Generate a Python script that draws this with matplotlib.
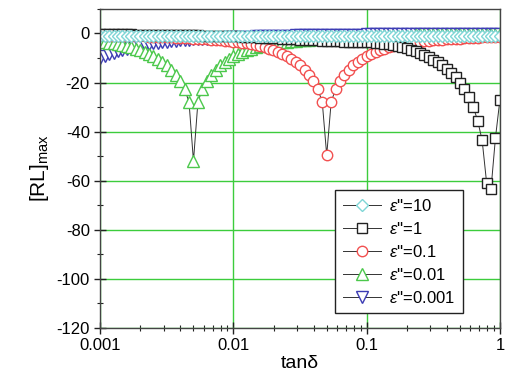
import matplotlib
matplotlib.use("Agg")
import matplotlib.pyplot as plt
from matplotlib.ticker import LogLocator, MultipleLocator, FixedLocator, FixedFormatter

plt.rcParams['font.family'] = ['Liberation Sans', 'DejaVu Sans']
plt.rcParams['mathtext.fontset'] = 'custom'
plt.rcParams['mathtext.rm'] = 'Liberation Sans'
plt.rcParams['mathtext.it'] = 'Liberation Sans:italic'
plt.rcParams['axes.unicode_minus'] = False

tan_d = [0.001000, 0.001080, 0.001166, 0.001259, 0.001359, 0.001468, 0.001585, 0.001711, 0.001848, 0.001995,
         0.002154, 0.002326, 0.002512, 0.002712, 0.002929, 0.003162, 0.003415, 0.003687, 0.003981, 0.004299,
         0.004642, 0.005012, 0.005412, 0.005843, 0.006310, 0.006813, 0.007356, 0.007943, 0.008577, 0.009261,
         0.01000, 0.01080, 0.01166, 0.01259, 0.01359, 0.01468, 0.01585, 0.01711, 0.01848, 0.01995,
         0.02154, 0.02326, 0.02512, 0.02712, 0.02929, 0.03162, 0.03415, 0.03687, 0.03981, 0.04299,
         0.04642, 0.05012, 0.05412, 0.05843, 0.06310, 0.06813, 0.07356, 0.07943, 0.08577, 0.09261,
         0.1000, 0.1080, 0.1166, 0.1259, 0.1359, 0.1468, 0.1585, 0.1711, 0.1848, 0.1995,
         0.2154, 0.2326, 0.2512, 0.2712, 0.2929, 0.3162, 0.3415, 0.3687, 0.3981, 0.4299,
         0.4642, 0.5012, 0.5412, 0.5843, 0.6310, 0.6813, 0.7356, 0.7943, 0.8577, 0.9261,
         1.000]

# [RL]max for each eps''
rl_10 = [-1.0, -1.0, -1.0, -1.0, -1.0, -1.0, -1.0, -1.0, -1.0, -1.0,
         -1.0, -1.0, -1.0, -1.0, -1.0, -1.0, -1.0, -1.0, -1.0, -1.0,
         -1.0, -1.0, -1.0, -1.0, -1.0, -1.0, -1.0, -1.0, -1.0, -1.0,
         -1.0, -1.0, -1.0, -1.0, -1.0, -1.0, -1.0, -1.0, -1.0, -1.0,
         -1.0, -1.0, -1.0, -1.0, -1.0, -1.0, -1.0, -1.0, -1.0, -1.0,
         -1.0, -1.0, -1.0, -1.0, -1.0, -1.0, -1.0, -1.0, -1.0, -1.0,
         -1.0, -1.0, -1.0, -1.0, -1.0, -1.0, -1.0, -1.0, -1.0, -1.0,
         -1.0, -1.0, -1.0, -1.0, -1.0, -1.0, -1.0, -1.0, -1.0, -1.0,
         -1.0, -1.0, -1.0, -1.0, -1.0, -1.0, -1.0, -1.0, -1.0, -1.0,
         -1.0]

rl_1 = [-0.3, -0.32, -0.34, -0.36, -0.38, -0.4, -0.42, -0.44, -0.46, -0.48,
        -0.5, -0.52, -0.55, -0.58, -0.61, -0.64, -0.67, -0.7, -0.73, -0.76,
        -0.79, -0.82, -0.85, -0.88, -0.91, -0.94, -0.97, -1.0, -1.03, -1.06,
        -1.1, -1.2, -1.3, -1.4, -1.5, -1.6, -1.7, -1.8, -1.9, -1.95,
        -2.0, -2.1, -2.2, -2.3, -2.4, -2.5, -2.6, -2.7, -2.8, -2.85,
        -2.9, -3.0, -3.1, -3.2, -3.25, -3.3, -3.35, -3.4, -3.45, -3.5,
        -3.6, -3.7, -3.85, -4.0, -4.2, -4.5, -4.8, -5.2, -5.6, -6.1,
        -6.7, -7.3, -8.0, -8.8, -9.7, -10.7, -11.8, -13.0, -14.4, -16.0,
        -17.8, -20.0, -22.8, -26.0, -30.0, -35.6, -43.6, -60.8, -63.2, -42.4,
        -27.0]

rl_01 = [-0.82, -0.85, -0.88, -0.92, -0.96, -1.0, -1.05, -1.1, -1.15, -1.2,
         -1.25, -1.3, -1.37, -1.45, -1.52, -1.6, -1.66, -1.73, -1.8, -1.9,
         -2.0, -2.1, -2.2, -2.3, -2.4, -2.5, -2.65, -2.8, -2.95, -3.1,
         -3.3, -3.5, -3.8, -4.1, -4.4, -4.8, -5.2, -5.7, -6.2, -6.8,
         -7.5, -8.3, -9.2, -10.3, -11.6, -13.0, -14.8, -16.8, -19.3, -22.6,
         -28.0, -49.6, -28.0, -22.6, -19.3, -16.8, -14.8, -13.0, -11.6, -10.3,
         -9.2, -8.3, -7.5, -6.8, -6.2, -5.7, -5.2, -4.8, -4.4, -4.1,
         -3.8, -3.5, -3.3, -3.1, -2.95, -2.8, -2.65, -2.5, -2.4, -2.3,
         -2.2, -2.1, -2.0, -1.9, -1.8, -1.73, -1.66, -1.6, -1.52, -1.45,
         -1.37]

rl_001 = [-3.3, -3.5, -3.8, -4.1, -4.4, -4.8, -5.2, -5.7, -6.2, -6.8,
          -7.5, -8.3, -9.2, -10.3, -11.6, -13.0, -14.8, -16.8, -19.3, -22.6,
          -28.0, -52.0, -28.0, -22.6, -19.3, -16.8, -14.8, -13.0, -11.6, -10.3,
          -9.2, -8.3, -7.5, -6.8, -6.2, -5.7, -5.2, -4.8, -4.4, -4.1,
          -3.8, -3.5, -3.3, -3.1, -2.95, -2.8, -2.65, -2.5, -2.4, -2.3,
          -2.2, -2.1, -2.0, -1.9, -1.8, -1.73, -1.66, -1.6, -1.52, -1.45,
          -1.37, -1.3, -1.25, -1.2, -1.15, -1.1, -1.05, -1.0, -0.96, -0.92,
          -0.88, -0.85, -0.82, -0.79, -0.76, -0.73, -0.7, -0.68, -0.66, -0.64,
          -0.62, -0.6, -0.58, -0.56, -0.54, -0.52, -0.5, -0.48, -0.47, -0.45,
          -0.44]

rl_0001 = [-10.2, -9.3, -8.5, -7.8, -7.2, -6.7, -6.2, -5.8, -5.4, -5.0,
           -4.7, -4.4, -4.1, -3.85, -3.6, -3.4, -3.2, -3.0, -2.85, -2.7,
           -2.55, -2.4, -2.3, -2.2, -2.1, -2.0, -1.9, -1.8, -1.7, -1.62,
           -1.55, -1.48, -1.42, -1.36, -1.3, -1.25, -1.2, -1.15, -1.1, -1.05,
           -1.0, -0.96, -0.92, -0.88, -0.84, -0.8, -0.77, -0.74, -0.71, -0.68,
           -0.65, -0.62, -0.6, -0.58, -0.56, -0.54, -0.52, -0.5, -0.48, -0.46,
           -0.44, -0.42, -0.41, -0.4, -0.38, -0.37, -0.36, -0.35, -0.34, -0.32,
           -0.31, -0.3, -0.29, -0.28, -0.27, -0.27, -0.26, -0.25, -0.24, -0.23,
           -0.23, -0.22, -0.21, -0.21, -0.2, -0.2, -0.19, -0.19, -0.18, -0.18,
           -0.18]

labels = [r"$\varepsilon$''=10", r"$\varepsilon$''=1", r"$\varepsilon$''=0.1",
          r"$\varepsilon$''=0.01", r"$\varepsilon$''=0.001"]
x_ticks = [0.001, 0.01, 0.1, 1]
x_tick_labels = ['0.001', '0.01', '0.1', '1']

fig = plt.figure(figsize=(5.06, 3.85), dpi=100)
ax = fig.add_axes([0.198, 0.148, 0.79, 0.829])

# (values, marker, colour, size), drawn so that eps''=10 ends up on top
series = [
    (rl_0001, 'v', '#3c3cb4', 8),
    (rl_001, '^', '#4cc84c', 8),
    (rl_01, 'o', '#f25050', 7.5),
    (rl_1, 's', '#222222', 6.5),
    (rl_10, 'D', '#7fd6d6', 6.5),
]
handles = []
for vals, mk, col, ms in series:
    h, = ax.plot(tan_d, vals, color='#333333', lw=0.7, marker=mk, ms=ms,
                 mfc='white', mec=col, mew=1.0)
    handles.append(h)

ax.set_xscale('log')
ax.set_xlim(0.001, 1)
ax.set_ylim(-120, 10)

ax.xaxis.set_major_locator(FixedLocator(x_ticks))
ax.xaxis.set_major_formatter(FixedFormatter(x_tick_labels))
ax.xaxis.set_minor_locator(LogLocator(base=10, subs=[2, 3, 4, 5, 6, 7, 8, 9]))
ax.yaxis.set_major_locator(MultipleLocator(20))
ax.yaxis.set_minor_locator(MultipleLocator(10))
ax.set_yticks([0, -20, -40, -60, -80, -100, -120])

ax.grid(True, which='major', color='#3ccc3c', lw=1.0)
ax.set_axisbelow(True)
ax.tick_params(which='major', direction='inout', length=8, width=1, labelsize=12, colors='#222222')
ax.tick_params(which='minor', direction='inout', length=5, width=0.8, colors='#222222')
ax.tick_params(axis='x', labelcolor='black')
ax.tick_params(axis='y', labelcolor='black')
for s in ax.spines.values():
    s.set_color('#444444')
    s.set_linewidth(1.0)

ax.set_xlabel('tanδ', fontsize=14, labelpad=1)
ax.set_ylabel(r'[RL]$_{\rm max}$', fontsize=15, labelpad=4)

leg = ax.legend(handles[::-1], labels, loc='lower left', bbox_to_anchor=(0.5875, 0.047),
                fontsize=12, frameon=True, fancybox=False, framealpha=1,
                edgecolor='#222222', handlelength=2.3, handletextpad=0.5,
                labelspacing=0.42, borderpad=0.45, borderaxespad=0)
leg.get_frame().set_linewidth(1.0)

fig.savefig('out.png', dpi=100)
